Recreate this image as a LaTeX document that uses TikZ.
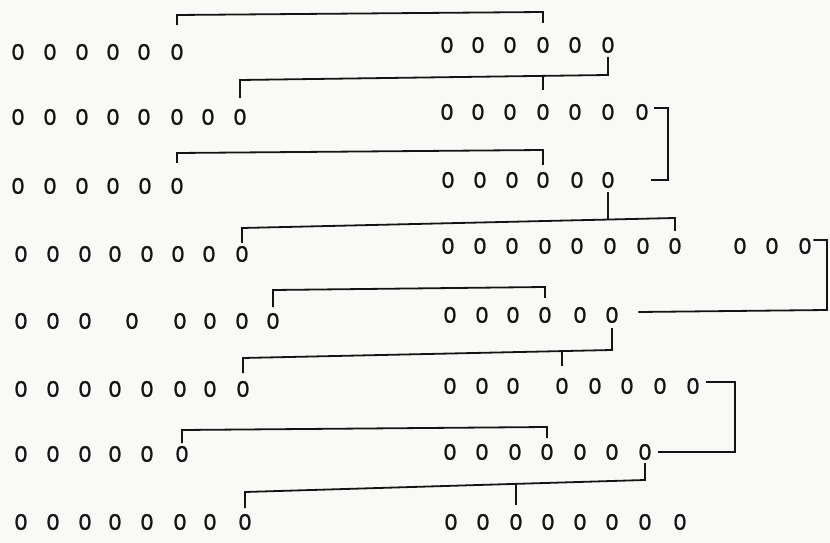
\documentclass[tikz,border=0pt]{standalone}
\usepackage{fontspec}
\setmainfont{Liberation Sans}
\newfontfamily\zerofont[FakeBold=1.3]{Liberation Sans}
\definecolor{paper}{RGB}{249,249,247}
\definecolor{ink}{RGB}{20,20,20}
\begin{document}
\begin{tikzpicture}[x=1bp,y=-1bp,
  zdigit/.style={inner sep=0pt,text=ink,font=\zerofont\fontsize{22.5}{26}\selectfont},
  conn/.style={draw=ink,line width=1.8bp,line join=miter}]
\fill[paper] (0,0) rectangle (830,543);
\useasboundingbox (0,0) rectangle (830,543);
% left column
\foreach \x [count=\i] in {18,50,82,113,144,177} \node[zdigit] (L1-\i) at (\x,52) {0};
\foreach \x [count=\i] in {18,50,82,113,144,177,208,240} \node[zdigit] (L2-\i) at (\x,117) {0};
\foreach \x [count=\i] in {18,50,82,113,145,177} \node[zdigit] (L3-\i) at (\x,186) {0};
\foreach \x [count=\i] in {21,53,85,115,147,178,209,242} \node[zdigit] (L4-\i) at (\x,254) {0};
\foreach \x [count=\i] in {21,53,85,132,180,210,242,273} \node[zdigit] (L5-\i) at (\x,321) {0};
\foreach \x [count=\i] in {21,53,85,115,147,180,210,243} \node[zdigit] (L6-\i) at (\x,389) {0};
\foreach \x [count=\i] in {21,53,85,115,147,182} \node[zdigit] (L7-\i) at (\x,454) {0};
\foreach \x [count=\i] in {21,53,85,115,147,180,210,245} \node[zdigit] (L8-\i) at (\x,522) {0};
% right column
\foreach \x [count=\i] in {447,478,510,543,575,608} \node[zdigit] (R1-\i) at (\x,45) {0};
\foreach \x [count=\i] in {447,478,510,543,575,608,642} \node[zdigit] (R2-\i) at (\x,112) {0};
\foreach \x [count=\i] in {448,480,512,543,577,608} \node[zdigit] (R3-\i) at (\x,180) {0};
\foreach \x [count=\i] in {448,480,512,545,577,610,643,675,740,772,805} \node[zdigit] (R4-\i) at (\x,246) {0};
\foreach \x [count=\i] in {450,482,513,545,580,612} \node[zdigit] (R5-\i) at (\x,315) {0};
\foreach \x [count=\i] in {450,482,513,562,595,627,660,693} \node[zdigit] (R6-\i) at (\x,386) {0};
\foreach \x [count=\i] in {450,482,515,547,580,612,645} \node[zdigit] (R7-\i) at (\x,452) {0};
\foreach \x [count=\i] in {451,483,516,548,580,612,645,680} \node[zdigit] (R8-\i) at (\x,522) {0};
% bracket columns
\coordinate (b3) at (668,0);
\coordinate (b6) at (827,0);
\coordinate (b9) at (735,0);
% connectors
\draw[conn] (L1-6 |- 0,25) -- (L1-6 |- 0,15) -- (R1-4 |- 0,12) -- (R1-4 |- 0,23);
\draw[conn] (L2-8 |- 0,98) -- (L2-8 |- 0,80) -- (R1-6 |- 0,75) -- (R1-6 |- 0,57);
\draw[conn] (R2-4 |- 0,76) -- (R2-4 |- 0,90);
\draw[conn] ([xshift=6bp,yshift=4bp]R2-7.east) -| (b3 |- R3-6) -- ([xshift=37bp]R3-6.east);
\draw[conn] (L3-6 |- 0,163) -- (L3-6 |- 0,153) -- (R3-4 |- 0,150) -- (R3-4 |- 0,165);
\draw[conn] (L4-8 |- 0,243) -- (L4-8 |- 0,228) -- (R4-8 |- 0,218) -- (R4-8 |- 0,231);
\draw[conn] (R3-6 |- 0,192) -- (R3-6 |- 0,220);
\draw[conn] ([xshift=2bp,yshift=6bp]R4-11.east) -| (b6 |- 0,310) -- ([xshift=20bp,yshift=3bp]R5-6.east);
\draw[conn] (L5-8 |- 0,307) -- (L5-8 |- 0,290) -- (R5-4 |- 0,287) -- (R5-4 |- 0,298);
\draw[conn] (R5-6 |- 0,328) -- (R5-6 |- 0,350) -- (L6-8 |- 0,358) -- (L6-8 |- 0,373);
\draw[conn] (R6-4 |- 0,351) -- (R6-4 |- 0,366);
\draw[conn] ([xshift=7bp,yshift=4bp]R6-8.east) -| (b9 |- R7-7) -- ([xshift=7bp]R7-7.east);
\draw[conn] (L7-6 |- 0,443) -- (L7-6 |- 0,430) -- (R7-4 |- 0,427) -- (R7-4 |- 0,438);
\draw[conn] (R7-7 |- 0,463) -- (R7-7 |- 0,480) -- (L8-8 |- 0,492) -- (L8-8 |- 0,508);
\draw[conn] (R8-3 |- 0,485) -- (R8-3 |- 0,505);
\end{tikzpicture}
\end{document}
